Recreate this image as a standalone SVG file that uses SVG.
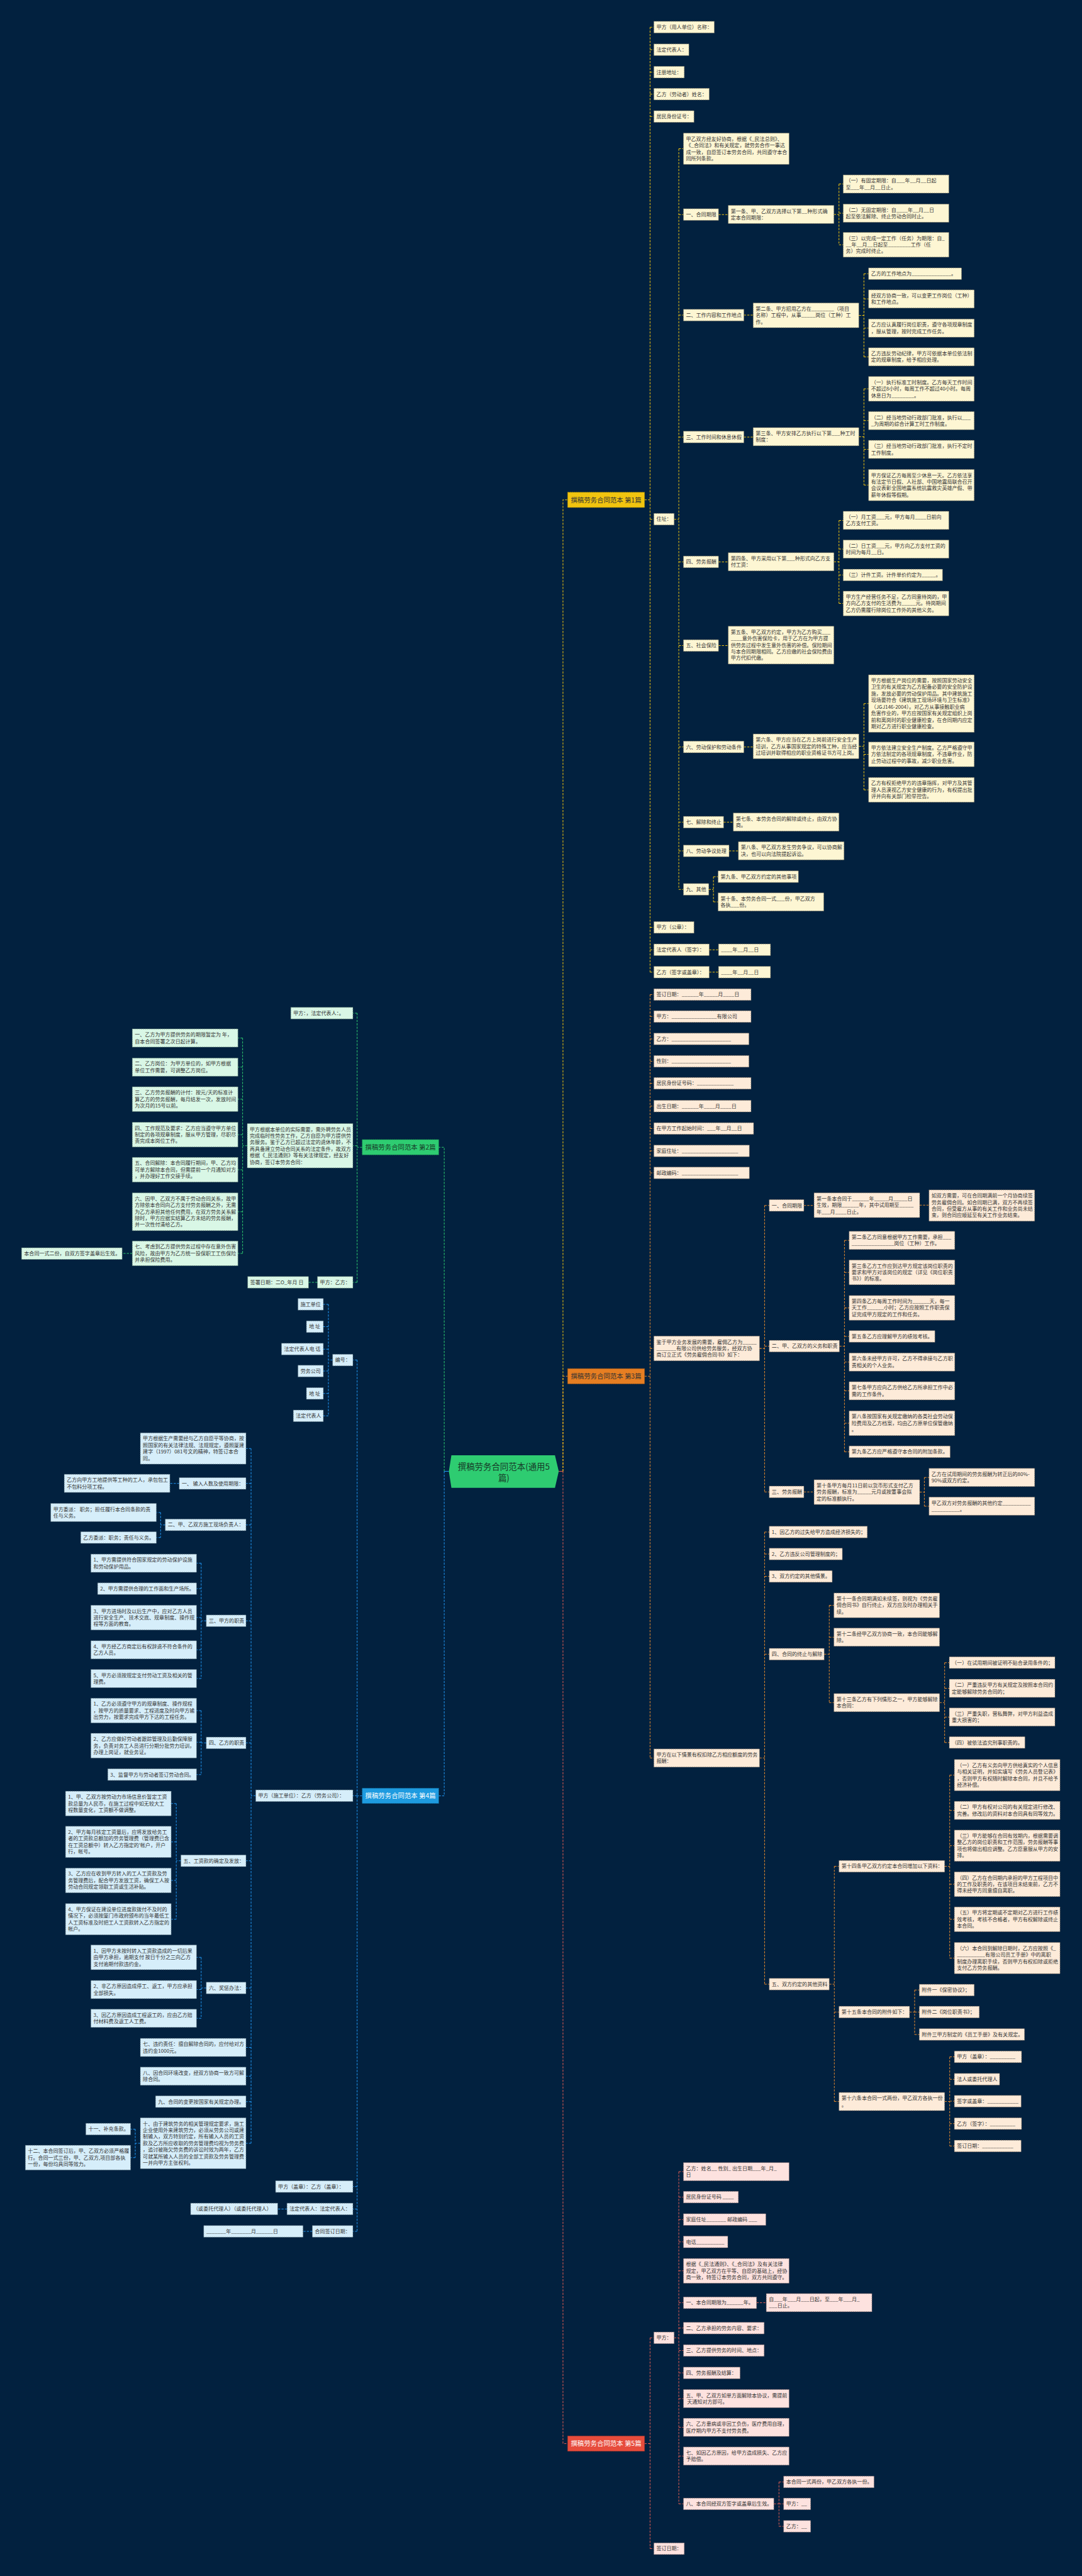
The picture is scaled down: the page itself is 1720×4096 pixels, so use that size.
<svg xmlns="http://www.w3.org/2000/svg" width="1720" height="4096" viewBox="0 0 1720 4096">
<style>
text{font-family:"Noto Sans CJK SC","Liberation Sans",sans-serif;font-size:12px;fill:#333}
.n1 rect{fill:#fdf6d3;stroke:#7d7358;stroke-width:1.1;stroke-dasharray:3 2}
.n3 rect{fill:#fdebd9;stroke:#7d6a58;stroke-width:1.1;stroke-dasharray:3 2}
.n5 rect{fill:#fde2df;stroke:#7d6262;stroke-width:1.1;stroke-dasharray:3 2}
.n2 rect{fill:#d9f7e6;stroke:#5f7d6c;stroke-width:1.1;stroke-dasharray:3 2}
.n4 rect{fill:#d6eefa;stroke:#5f7480;stroke-width:1.1;stroke-dasharray:3 2}
.lb text{font-size:15.5px;text-anchor:middle}
.lb rect{stroke-width:1.2;stroke-dasharray:3 2}
#conn path{fill:none;stroke-width:1.5;stroke-dasharray:5 3}
.c1{stroke:#f1c40f}.c3{stroke:#e68a2e}.c5{stroke:#e25c52}.c2{stroke:#2ecc71}.c4{stroke:#2196f3}
</style>
<rect width="1720" height="4096" fill="#02213f"/>
<g transform="scale(0.671875)">
<g id="conn">
<path d="M1322,3482 H1332" style="stroke:#e25c52;stroke-dasharray:none"/>
<path d="M1062,3482 H1051" style="stroke:#2196f3;stroke-dasharray:none"/>
<path class="c5" d="M1332,3482 V5783 H1343"/>
<path class="c3" d="M1332,3482 V3257 H1343"/>
<path class="c1" d="M1332,3482 V1183 H1343"/>
<path class="c2" d="M1051,3482 V2715 H1038"/>
<path class="c4" d="M1051,3482 V4250 H1038"/>
<path class="c1" d="M1525,1183 H1538 M1538,64.25 V2300.75 M1538,64.25 H1547 M1538,117.75 H1547 M1538,170.75 H1547 M1538,222.75 H1547 M1538,275.75 H1547 M1538,1229 H1547 M1538,2194.75 H1547 M1538,2247.75 H1547 M1538,2300.75 H1547 M1678,2247.75 H1700 M1678,2300.75 H1700"/>
<path class="c1" d="M1595,1229 H1606 M1606,352 V2104.75 M1606,352 H1617 M1606,507.75 H1617 M1606,745.75 H1617 M1606,1034.25 H1617 M1606,1329.75 H1617 M1606,1527.75 H1617 M1606,1767.75 H1617 M1606,1945.75 H1617 M1606,2013.75 H1617 M1606,2104.75 H1617"/>
<path class="c1" d="M1700,507.75 H1723 M1973,507.5 H1985 M1985,435.5 V579.25 M1985,435.5 H1995 M1985,504.5 H1995 M1985,579.25 H1995"/>
<path class="c1" d="M1760,745.75 H1782 M2032,746.25 H2044 M2044,647.75 V844.5 M2044,647.75 H2055 M2044,707.5 H2055 M2044,776.5 H2055 M2044,844.5 H2055"/>
<path class="c1" d="M1760,1034.25 H1782 M2032,1033.5 H2044 M2044,920.25 V1148 M2044,920.25 H2055 M2044,995.5 H2055 M2044,1063.5 H2055 M2044,1148 H2055"/>
<path class="c1" d="M1700,1329.75 H1723 M1973,1329.5 H1985 M1985,1231.5 V1428.25 M1985,1231.5 H1995 M1985,1299.5 H1995 M1985,1360.75 H1995 M1985,1428.25 H1995"/>
<path class="c1" d="M1700,1527.75 H1723 M1760,1767.75 H1782 M2032,1766.25 H2044 M2044,1665 V1869.25 M2044,1665 H2055 M2044,1785.25 H2055 M2044,1869.25 H2055"/>
<path class="c1" d="M1712,1945.75 H1735 M1725,2013.75 H1747 M1677,2104.75 H1688 M1688,2074.75 V2134.5 M1688,2074.75 H1699 M1688,2134.5 H1699"/>
<path class="c3" d="M1525,3257 H1538 M1538,2353.75 V4160.5 M1538,2353.75 H1547 M1538,2405.75 H1547 M1538,2458.75 H1547 M1538,2511.75 H1547 M1538,2563.75 H1547 M1538,2617.75 H1547 M1538,2670.75 H1547 M1538,2723.75 H1547 M1538,2775.75 H1547 M1538,3191.25 H1547 M1538,4160.5 H1547"/>
<path class="c3" d="M1797,3191.25 H1809 M1809,2852.75 V3530.75 M1809,2852.75 H1820 M1809,3185.75 H1820 M1809,3530.75 H1820 M1902,2852.75 H1926 M2176,2852.25 H2198"/>
<path class="c3" d="M1986,3185.75 H1998 M1998,2935.5 V3435.75 M1998,2935.5 H2009 M1998,3011.25 H2009 M1998,3095.25 H2009 M1998,3162.75 H2009 M1998,3223.5 H2009 M1998,3291.5 H2009 M1998,3368.25 H2009 M1998,3435.75 H2009"/>
<path class="c3" d="M1902,3530.75 H1926 M2176,3531.25 H2187 M2187,3496.5 V3564.5 M2187,3496.5 H2198 M2187,3564.5 H2198"/>
<path class="c3" d="M1797,4160.5 H1809 M1809,3625.75 V4695.75 M1809,3625.75 H1820 M1809,3677.75 H1820 M1809,3730.75 H1820 M1809,3914.75 H1820 M1809,4695.75 H1820"/>
<path class="c3" d="M1950,3914.75 H1962 M1962,3799.25 V4029.5 M1962,3799.25 H1973 M1962,3874.5 H1973 M1962,4029.5 H1973 M2223,4029.5 H2235 M2235,3934.75 V4123.75 M2235,3934.75 H2246 M2235,3995.5 H2246 M2235,4063.5 H2246 M2235,4123.75 H2246"/>
<path class="c3" d="M1962,4695.75 H1974 M1974,4416.75 V4973.5 M1974,4416.75 H1985 M1974,4761.75 H1985 M1974,4973.5 H1985"/>
<path class="c3" d="M2235,4416.75 H2247 M2247,4201 V4634 M2247,4201 H2258 M2247,4284.5 H2258 M2247,4368 H2258 M2247,4459.25 H2258 M2247,4542.25 H2258 M2247,4634 H2258"/>
<path class="c3" d="M2152,4761.75 H2164 M2164,4709.75 V4814.75 M2164,4709.75 H2175 M2164,4761.75 H2175 M2164,4814.75 H2175"/>
<path class="c3" d="M2235,4973.5 H2247 M2247,4867.75 V5078.75 M2247,4867.75 H2258 M2247,4920.75 H2258 M2247,4972.75 H2258 M2247,5025.75 H2258 M2247,5078.75 H2258"/>
<path class="c5" d="M1525,5783 H1538 M1538,5532.75 V6031.75 M1538,5532.75 H1547 M1538,6031.75 H1547"/>
<path class="c5" d="M1595,5532.75 H1606 M1606,5139.5 V5925.75 M1606,5139.5 H1617 M1606,5199.75 H1617 M1606,5252.75 H1617 M1606,5305.75 H1617 M1606,5374.25 H1617 M1606,5449.75 H1617 M1606,5509.75 H1617 M1606,5562.75 H1617 M1606,5615.75 H1617 M1606,5676.5 H1617 M1606,5744.5 H1617 M1606,5812.5 H1617 M1606,5925.75 H1617"/>
<path class="c5" d="M1790,5449.75 H1813 M1831,5925.75 H1843 M1843,5873.75 V5978.75 M1843,5873.75 H1854 M1843,5925.75 H1854 M1843,5978.75 H1854"/>
<path class="c2" d="M857,2715 H845 M845,2397.75 V3034.75 M845,2397.75 H835 M845,2711.5 H835 M845,3034.75 H835 M751,3034.75 H730"/>
<path class="c2" d="M585,2711.5 H574 M574,2456.5 V2966.25 M574,2456.5 H563 M574,2525.5 H563 M574,2601.25 H563 M574,2685.25 H563 M574,2768.25 H563 M574,2867.75 H563 M574,2966.25 H563 M313,2966.25 H289"/>
<path class="c4" d="M857,4250 H845 M845,3218.75 V5280.75 M845,3218.75 H835 M845,4249.75 H835 M845,5174.75 H835 M845,5227.75 H835 M845,5280.75 H835 M679,5227.75 H657 M739,5280.75 H717"/>
<path class="c4" d="M787,3218.75 H777 M777,3086.75 V3350.75 M777,3086.75 H765 M777,3139.75 H765 M777,3192.75 H765 M777,3244.75 H765 M777,3297.75 H765 M777,3350.75 H765"/>
<path class="c4" d="M605,4249.75 H594 M594,3428 V5072.25 M594,3428 H582 M594,3510.75 H582 M594,3608.75 H582 M594,3835.75 H582 M594,4124.75 H582 M594,4403.75 H582 M594,4704.75 H582 M594,4845.5 H582 M594,4913.5 H582 M594,4973.75 H582 M594,5072.25 H582"/>
<path class="c4" d="M424,3510.75 H402 M391,3608.75 H380 M380,3579.5 V3638.75 M380,3579.5 H370 M380,3638.75 H370"/>
<path class="c4" d="M488,3835.75 H476 M476,3699.5 V3972.5 M476,3699.5 H465 M476,3759.75 H465 M476,3828.25 H465 M476,3904.5 H465 M476,3972.5 H465"/>
<path class="c4" d="M488,4124.75 H476 M476,4048.25 V4199.75 M476,4048.25 H465 M476,4123.25 H465 M476,4199.75 H465"/>
<path class="c4" d="M428,4403.75 H417 M417,4268.25 V4542 M417,4268.25 H405 M417,4359 H405 M417,4450.25 H405 M417,4542 H405"/>
<path class="c4" d="M488,4704.75 H476 M476,4632.25 V4776.5 M476,4632.25 H465 M476,4708.5 H465 M476,4776.5 H465"/>
<path class="c4" d="M332,5072.25 H320 M320,5038.75 V5106.25 M320,5038.75 H309 M320,5106.25 H309"/>
</g>

<g id="root"><polygon points="1062,3482 1068,3444 1313,3444 1322,3482 1313,3521 1068,3521" fill="#2ecc71"/><text x="1192" y="3478" style="font-size:20px;text-anchor:middle;fill:#173a28">撰稿劳务合同范本(通用5</text><text x="1192" y="3505" style="font-size:20px;text-anchor:middle;fill:#173a28">篇)</text></g>

<g id="L1" class="lb"><rect x="1343" y="1165" width="182" height="36" fill="#f1c40f" stroke="#b08f00"/><text x="1434" y="1188.5">撰稿劳务合同范本 第1篇</text></g>
<g id="L3" class="lb"><rect x="1343" y="3239" width="182" height="36" fill="#e67e22" stroke="#a85a12"/><text x="1434" y="3262.5">撰稿劳务合同范本 第3篇</text></g>
<g id="L5" class="lb"><rect x="1343" y="5765" width="182" height="36" fill="#e74c3c" stroke="#a83428"/><text x="1434" y="5788.5" style="fill:#fff">撰稿劳务合同范本 第5篇</text></g>
<g id="L2" class="lb"><rect x="857" y="2697" width="181" height="36" fill="#2ecc71" stroke="#1f9150"/><text x="947.5" y="2720.5" style="fill:#173a28">撰稿劳务合同范本 第2篇</text></g>
<g id="L4" class="lb"><rect x="857" y="4232" width="181" height="36" fill="#1e9be0" stroke="#13709f"/><text x="947.5" y="4255.5" style="fill:#fff">撰稿劳务合同范本 第4篇</text></g>

<g class="n1">
<g id="A1"><rect x="1547" y="50.5" width="143" height="27.5"/><text x="1553" y="68.5">甲方（用人单位）名称：</text></g>
<g id="A2"><rect x="1547" y="104" width="83" height="27.5"/><text x="1553" y="122">法定代表人：</text></g>
<g id="A3"><rect x="1547" y="157" width="72" height="27.5"/><text x="1553" y="175">注册地址：</text></g>
<g id="A4"><rect x="1547" y="209" width="131" height="27.5"/><text x="1553" y="227">乙方（劳动者）姓名：</text></g>
<g id="A5"><rect x="1547" y="262" width="95" height="27.5"/><text x="1553" y="280">居民身份证号：</text></g>
<g id="A6"><rect x="1547" y="1215" width="48" height="27.5"/><text x="1553" y="1233">住址：</text></g>
<g id="A7"><rect x="1547" y="2181" width="95" height="27.5"/><text x="1553" y="2199">甲方（公章）：</text></g>
<g id="A8"><rect x="1547" y="2234" width="131" height="27.5"/><text x="1553" y="2252">法定代表人（签字）：</text></g>
<g id="A8c"><rect x="1700" y="2234" width="123" height="27.5"/><text x="1706" y="2252">____年__月__日</text></g>
<g id="A9"><rect x="1547" y="2287" width="131" height="27.5"/><text x="1553" y="2305">乙方（签字或盖章）：</text></g>
<g id="A9c"><rect x="1700" y="2287" width="123" height="27.5"/><text x="1706" y="2305">____年__月__日</text></g>
<g id="B1"><rect x="1617" y="315" width="250" height="74"/><text x="1623" y="333"><tspan>甲乙双方经友好协商，根据《_民法总则》、</tspan><tspan x="1623" dy="15.5">《_合同法》和有关规定，就劳务合作一事达</tspan><tspan x="1623" dy="15.5">成一致，自愿签订本劳务合同，共同遵守本合</tspan><tspan x="1623" dy="15.5">同所列条款。</tspan></text></g>
<g id="B2"><rect x="1617" y="494" width="83" height="27.5"/><text x="1623" y="512">一、合同期限</text></g>
<g id="B3"><rect x="1617" y="732" width="143" height="27.5"/><text x="1623" y="750">二、工作内容和工作地点</text></g>
<g id="B4"><rect x="1617" y="1020.5" width="143" height="27.5"/><text x="1623" y="1038.5">三、工作时间和休息休假</text></g>
<g id="B5"><rect x="1617" y="1316" width="83" height="27.5"/><text x="1623" y="1334">四、劳务报酬</text></g>
<g id="B6"><rect x="1617" y="1514" width="83" height="27.5"/><text x="1623" y="1532">五、社会保险</text></g>
<g id="B7"><rect x="1617" y="1754" width="143" height="27.5"/><text x="1623" y="1772">六、劳动保护和劳动条件</text></g>
<g id="B8"><rect x="1617" y="1932" width="95" height="27.5"/><text x="1623" y="1950">七、解除和终止</text></g>
<g id="B9"><rect x="1617" y="2000" width="108" height="27.5"/><text x="1623" y="2018">八、劳动争议处理</text></g>
<g id="B10"><rect x="1617" y="2091" width="60" height="27.5"/><text x="1623" y="2109">九、其他</text></g>
<g id="C1"><rect x="1723" y="486" width="250" height="43"/><text x="1729" y="504"><tspan>第一条、甲、乙双方选择以下第__种形式确</tspan><tspan x="1729" dy="15.5">定本合同期限：</tspan></text></g>
<g id="D1"><rect x="1995" y="414" width="250" height="43"/><text x="2001" y="432"><tspan>（一）有固定期限：自___年__月__日起</tspan><tspan x="2001" dy="15.5">至___年__月__日止。</tspan></text></g>
<g id="D2"><rect x="1995" y="483" width="250" height="43"/><text x="2001" y="501"><tspan>（二）无固定期限：自____年__月__日</tspan><tspan x="2001" dy="15.5">起至依法解除、终止劳动合同时止。</tspan></text></g>
<g id="D3"><rect x="1995" y="550" width="250" height="58.5"/><text x="2001" y="568"><tspan>（三）以完成一定工作（任务）为期限：自_</tspan><tspan x="2001" dy="15.5">__年__月__日起至________工作（任</tspan><tspan x="2001" dy="15.5">务）完成时终止。</tspan></text></g>
<g id="C2"><rect x="1782" y="717" width="250" height="58.5"/><text x="1788" y="735"><tspan>第二条、甲方招用乙方在________（项目</tspan><tspan x="1788" dy="15.5">名称）工程中，从事_____岗位（工种）工</tspan><tspan x="1788" dy="15.5">作。</tspan></text></g>
<g id="D4"><rect x="2055" y="634" width="220" height="27.5"/><text x="2061" y="652">乙方的工作地点为______________。</text></g>
<g id="D5"><rect x="2055" y="686" width="250" height="43"/><text x="2061" y="704"><tspan>经双方协商一致，可以变更工作岗位（工种）</tspan><tspan x="2061" dy="15.5">和工作地点。</tspan></text></g>
<g id="D6"><rect x="2055" y="755" width="250" height="43"/><text x="2061" y="773"><tspan>乙方应认真履行岗位职责，遵守各项规章制度</tspan><tspan x="2061" dy="15.5">，服从管理，按时完成工作任务。</tspan></text></g>
<g id="D7"><rect x="2055" y="823" width="250" height="43"/><text x="2061" y="841"><tspan>乙方违反劳动纪律，甲方可依据本单位依法制</tspan><tspan x="2061" dy="15.5">定的规章制度，给予相应处理。</tspan></text></g>
<g id="C3"><rect x="1782" y="1012" width="250" height="43"/><text x="1788" y="1030"><tspan>第三条、甲方安排乙方执行以下第___种工时</tspan><tspan x="1788" dy="15.5">制度：</tspan></text></g>
<g id="D8"><rect x="2055" y="891" width="250" height="58.5"/><text x="2061" y="909"><tspan>（一）执行标准工时制度。乙方每天工作时间</tspan><tspan x="2061" dy="15.5">不超过8小时，每周工作不超过40小时。每周</tspan><tspan x="2061" dy="15.5">休息日为________。</tspan></text></g>
<g id="D9"><rect x="2055" y="974" width="250" height="43"/><text x="2061" y="992"><tspan>（二）经当地劳动行政部门批准，执行以___</tspan><tspan x="2061" dy="15.5">_为周期的综合计算工时工作制度。</tspan></text></g>
<g id="D10"><rect x="2055" y="1042" width="250" height="43"/><text x="2061" y="1060"><tspan>（三）经当地劳动行政部门批准，执行不定时</tspan><tspan x="2061" dy="15.5">工作制度。</tspan></text></g>
<g id="D11"><rect x="2055" y="1111" width="250" height="74"/><text x="2061" y="1129"><tspan>甲方保证乙方每周至少休息一天。乙方依法享</tspan><tspan x="2061" dy="15.5">有法定节日假、人社部、中国地震局联合召开</tspan><tspan x="2061" dy="15.5">会议表彰全国地震系统抗震救灾英雄产假、带</tspan><tspan x="2061" dy="15.5">薪年休假等假期。</tspan></text></g>
<g id="C4"><rect x="1723" y="1308" width="250" height="43"/><text x="1729" y="1326"><tspan>第四条、甲方采用以下第___种形式向乙方支</tspan><tspan x="1729" dy="15.5">付工资：</tspan></text></g>
<g id="D12"><rect x="1995" y="1210" width="250" height="43"/><text x="2001" y="1228"><tspan>（一）月工资___元，甲方每月____日前向</tspan><tspan x="2001" dy="15.5">乙方支付工资。</tspan></text></g>
<g id="D13"><rect x="1995" y="1278" width="250" height="43"/><text x="2001" y="1296"><tspan>（二）日工资___元，甲方向乙方支付工资的</tspan><tspan x="2001" dy="15.5">时间为每月__日。</tspan></text></g>
<g id="D14"><rect x="1995" y="1347" width="235" height="27.5"/><text x="2001" y="1365">（三）计件工资。计件单价约定为_____。</text></g>
<g id="D15"><rect x="1995" y="1399" width="250" height="58.5"/><text x="2001" y="1417"><tspan>甲方生产经营任务不足，乙方同意待岗的，甲</tspan><tspan x="2001" dy="15.5">方向乙方支付的生活费为_____元。待岗期间</tspan><tspan x="2001" dy="15.5">乙方仍需履行除岗位工作外的其他义务。</tspan></text></g>
<g id="C5"><rect x="1723" y="1482" width="250" height="89.5"/><text x="1729" y="1500"><tspan>第五条、甲乙双方约定，甲方为乙方购买___</tspan><tspan x="1729" dy="15.5">____意外伤害保险卡，用于乙方在为甲方提</tspan><tspan x="1729" dy="15.5">供劳务过程中发生意外伤害的补偿。保险期间</tspan><tspan x="1729" dy="15.5">与本合同期限相同。乙方应缴的社会保险费由</tspan><tspan x="1729" dy="15.5">甲方代扣代缴。</tspan></text></g>
<g id="C6"><rect x="1782" y="1737" width="250" height="58.5"/><text x="1788" y="1755"><tspan>第六条、甲方应当在乙方上岗前进行安全生产</tspan><tspan x="1788" dy="15.5">培训，乙方从事国家规定的特殊工种，应当经</tspan><tspan x="1788" dy="15.5">过培训并取得相应的职业资格证书方可上岗。</tspan></text></g>
<g id="D16"><rect x="2055" y="1597" width="250" height="136"/><text x="2061" y="1615"><tspan>甲方根据生产岗位的需要，按照国家劳动安全</tspan><tspan x="2061" dy="15.5">卫生的有关规定为乙方配备必要的安全防护设</tspan><tspan x="2061" dy="15.5">施，发放必要的劳动保护用品。其中建筑施工</tspan><tspan x="2061" dy="15.5">现场要符合《建筑施工现场环境与卫生标准》</tspan><tspan x="2061" dy="15.5">（JGJ146-2004）。对乙方从事接触职业病</tspan><tspan x="2061" dy="15.5">危害作业的，甲方应按国家有关规定组织上岗</tspan><tspan x="2061" dy="15.5">前和离岗时的职业健康检查，在合同期内应定</tspan><tspan x="2061" dy="15.5">期对乙方进行职业健康检查。</tspan></text></g>
<g id="D17"><rect x="2055" y="1756" width="250" height="58.5"/><text x="2061" y="1774"><tspan>甲方依法建立安全生产制度。乙方严格遵守甲</tspan><tspan x="2061" dy="15.5">方依法制定的各项规章制度，不违章作业，防</tspan><tspan x="2061" dy="15.5">止劳动过程中的事故，减少职业危害。</tspan></text></g>
<g id="D18"><rect x="2055" y="1840" width="250" height="58.5"/><text x="2061" y="1858"><tspan>乙方有权拒绝甲方的违章指挥，对甲方及其管</tspan><tspan x="2061" dy="15.5">理人员漠视乙方安全健康的行为，有权提出批</tspan><tspan x="2061" dy="15.5">评并向有关部门检举控告。</tspan></text></g>
<g id="C7"><rect x="1735" y="1924" width="250" height="43"/><text x="1741" y="1942"><tspan>第七条、本劳务合同的解除或终止，由双方协</tspan><tspan x="1741" dy="15.5">商。</tspan></text></g>
<g id="C8"><rect x="1747" y="1992" width="250" height="43"/><text x="1753" y="2010"><tspan>第八条、甲乙双方发生劳务争议，可以协商解</tspan><tspan x="1753" dy="15.5">决，也可以向法院提起诉讼。</tspan></text></g>
<g id="C9"><rect x="1699" y="2061" width="190" height="27.5"/><text x="1705" y="2079">第九条、甲乙双方约定的其他事项</text></g>
<g id="C10"><rect x="1699" y="2113" width="250" height="43"/><text x="1705" y="2131"><tspan>第十条、本劳务合同一式___份，甲乙双方</tspan><tspan x="1705" dy="15.5">各执___份。</tspan></text></g>
</g>

<g class="n3">
<g id="E1"><rect x="1547" y="2340" width="230" height="27.5"/><text x="1553" y="2358">签订日期：______年_____月____日</text></g>
<g id="E2"><rect x="1547" y="2392" width="230" height="27.5"/><text x="1553" y="2410">甲方：________________有限公司</text></g>
<g id="E3"><rect x="1547" y="2445" width="225" height="27.5"/><text x="1553" y="2463">乙方：_____________________</text></g>
<g id="E4"><rect x="1547" y="2498" width="225" height="27.5"/><text x="1553" y="2516">性别：_____________________</text></g>
<g id="E5"><rect x="1547" y="2550" width="230" height="27.5"/><text x="1553" y="2568">居民身份证号码：_____________</text></g>
<g id="E6"><rect x="1547" y="2604" width="230" height="27.5"/><text x="1553" y="2622">出生日期：______年____月____日</text></g>
<g id="E7"><rect x="1547" y="2657" width="236" height="27.5"/><text x="1553" y="2675">在甲方工作起始时间：___年__月__日</text></g>
<g id="E8"><rect x="1547" y="2710" width="226" height="27.5"/><text x="1553" y="2728">家庭住址：____________________</text></g>
<g id="E9"><rect x="1547" y="2762" width="226" height="27.5"/><text x="1553" y="2780">邮政编码：____________________</text></g>
<g id="E10"><rect x="1547" y="3162" width="250" height="58.5"/><text x="1553" y="3180"><tspan>鉴于甲方业务发展的需要，雇佣乙方为_____</tspan><tspan x="1553" dy="15.5">_______有限公司供给劳务服务，经双方协</tspan><tspan x="1553" dy="15.5">商订立正式《劳务雇佣合同书》如下：</tspan></text></g>
<g id="E11"><rect x="1547" y="4139" width="250" height="43"/><text x="1553" y="4157"><tspan>甲方在以下情景有权扣除乙方相应额度的劳务</tspan><tspan x="1553" dy="15.5">报酬：</tspan></text></g>
<g id="F1"><rect x="1820" y="2839" width="82" height="27.5"/><text x="1826" y="2857">一、合同期限</text></g>
<g id="G1"><rect x="1926" y="2823" width="250" height="58.5"/><text x="1932" y="2841"><tspan>第一条本合同于______年_____月_____日</tspan><tspan x="1932" dy="15.5">生效，期限______年，其中试用期至_____</tspan><tspan x="1932" dy="15.5">年___月____日止。</tspan></text></g>
<g id="H1"><rect x="2198" y="2816" width="250" height="74"/><text x="2204" y="2834"><tspan>如双方需要，可在合同期满前一个月协商续签</tspan><tspan x="2204" dy="15.5">劳务雇佣合同。如合同期已满，双方不再续签</tspan><tspan x="2204" dy="15.5">合同，但受雇方从事的有关工作和业务尚未结</tspan><tspan x="2204" dy="15.5">束，则合同应顺延至有关工作业务结束。</tspan></text></g>
<g id="F2"><rect x="1820" y="3172" width="166" height="27.5"/><text x="1826" y="3190">二、甲、乙双方的义务和职责</text></g>
<g id="G2"><rect x="2009" y="2914" width="250" height="43"/><text x="2015" y="2932"><tspan>第二条乙方同意根据甲方工作需要，承担___</tspan><tspan x="2015" dy="15.5">_______________岗位（工种）工作。</tspan></text></g>
<g id="G3"><rect x="2009" y="2982" width="250" height="58.5"/><text x="2015" y="3000"><tspan>第三条乙方工作应到达甲方规定该岗位职责的</tspan><tspan x="2015" dy="15.5">要求和甲方对该岗位的规定（详见《岗位职责</tspan><tspan x="2015" dy="15.5">书》）的标准。</tspan></text></g>
<g id="G4"><rect x="2009" y="3066" width="250" height="58.5"/><text x="2015" y="3084"><tspan>第四条乙方每周工作时间为______天，每一</tspan><tspan x="2015" dy="15.5">天工作______小时；乙方应按照工作职责保</tspan><tspan x="2015" dy="15.5">证完成甲方规定的工作和任务。</tspan></text></g>
<g id="G5"><rect x="2009" y="3149" width="203" height="27.5"/><text x="2015" y="3167">第五条乙方应理解甲方的绩效考核。</text></g>
<g id="G6"><rect x="2009" y="3202" width="250" height="43"/><text x="2015" y="3220"><tspan>第六条未经甲方许可，乙方不得承接与乙方职</tspan><tspan x="2015" dy="15.5">责相关的个人业务。</tspan></text></g>
<g id="G7"><rect x="2009" y="3270" width="250" height="43"/><text x="2015" y="3288"><tspan>第七条甲方应向乙方供给乙方所承担工作中必</tspan><tspan x="2015" dy="15.5">需的工作条件。</tspan></text></g>
<g id="G8"><rect x="2009" y="3339" width="250" height="58.5"/><text x="2015" y="3357"><tspan>第八条按国家有关规定缴纳的各类社会劳动保</tspan><tspan x="2015" dy="15.5">险费用及乙方档案，均由乙方原单位保管缴纳</tspan><tspan x="2015" dy="15.5">。</tspan></text></g>
<g id="G9"><rect x="2009" y="3422" width="239" height="27.5"/><text x="2015" y="3440">第九条乙方应严格遵守本合同的附加条款。</text></g>
<g id="F3"><rect x="1820" y="3517" width="82" height="27.5"/><text x="1826" y="3535">三、劳务报酬</text></g>
<g id="G10"><rect x="1926" y="3502" width="250" height="58.5"/><text x="1932" y="3520"><tspan>第十条甲方每月11日前以货币形式支付乙方</tspan><tspan x="1932" dy="15.5">劳务报酬，标准为_____元月或按董事会拟</tspan><tspan x="1932" dy="15.5">定的标准额执行。</tspan></text></g>
<g id="H2"><rect x="2198" y="3475" width="250" height="43"/><text x="2204" y="3493"><tspan>乙方在试用期间的劳务报酬为转正后的80%-</tspan><tspan x="2204" dy="15.5">90%或双方约定。</tspan></text></g>
<g id="H3"><rect x="2198" y="3543" width="250" height="43"/><text x="2204" y="3561"><tspan>甲乙双方对劳务报酬的其他约定__________</tspan><tspan x="2204" dy="15.5">__________。</tspan></text></g>
<g id="F4"><rect x="1820" y="3612" width="232" height="27.5"/><text x="1826" y="3630">1、因乙方的过失给甲方造成经济损失的；</text></g>
<g id="F5"><rect x="1820" y="3664" width="173" height="27.5"/><text x="1826" y="3682">2、乙方违反公司管理制度的；</text></g>
<g id="F6"><rect x="1820" y="3717" width="149" height="27.5"/><text x="1826" y="3735">3、双方约定的其他情景。</text></g>
<g id="F7"><rect x="1820" y="3901" width="130" height="27.5"/><text x="1826" y="3919">四、合同的终止与解除</text></g>
<g id="G11"><rect x="1973" y="3770" width="250" height="58.5"/><text x="1979" y="3788"><tspan>第十一条合同期满如未续签，则视为《劳务雇</tspan><tspan x="1979" dy="15.5">佣合同书》自行终止，双方应及时办理相关手</tspan><tspan x="1979" dy="15.5">续。</tspan></text></g>
<g id="G12"><rect x="1973" y="3853" width="250" height="43"/><text x="1979" y="3871"><tspan>第十二条经甲乙双方协商一致，本合同能够解</tspan><tspan x="1979" dy="15.5">除。</tspan></text></g>
<g id="G13"><rect x="1973" y="4008" width="250" height="43"/><text x="1979" y="4026"><tspan>第十三条乙方有下列情形之一，甲方能够解除</tspan><tspan x="1979" dy="15.5">本合同：</tspan></text></g>
<g id="H4"><rect x="2246" y="3921" width="250" height="27.5"/><text x="2252" y="3939">（一）在试用期间被证明不贴合录用条件的；</text></g>
<g id="H5"><rect x="2246" y="3974" width="250" height="43"/><text x="2252" y="3992"><tspan>（二）严重违反甲方有关规定及按照本合同约</tspan><tspan x="2252" dy="15.5">定能够解除劳务合同的；</tspan></text></g>
<g id="H6"><rect x="2246" y="4042" width="250" height="43"/><text x="2252" y="4060"><tspan>（三）严重失职，营私舞弊，对甲方利益造成</tspan><tspan x="2252" dy="15.5">重大损害的；</tspan></text></g>
<g id="H7"><rect x="2246" y="4110" width="179" height="27.5"/><text x="2252" y="4128">（四）被依法追究刑事职责的。</text></g>
<g id="F8"><rect x="1820" y="4682" width="142" height="27.5"/><text x="1826" y="4700">五、双方约定的其他资料</text></g>
<g id="G14"><rect x="1985" y="4403" width="250" height="27.5"/><text x="1991" y="4421">第十四条甲乙双方约定本合同增加以下资料：</text></g>
<g id="H8"><rect x="2258" y="4164" width="250" height="74"/><text x="2264" y="4182"><tspan>（一）乙方有义务向甲方供给真实的个人信息</tspan><tspan x="2264" dy="15.5">与相关证明，并如实填写《劳务人员登记表》</tspan><tspan x="2264" dy="15.5">，否则甲方有权随时解除本合同，并且不给予</tspan><tspan x="2264" dy="15.5">经济补偿。</tspan></text></g>
<g id="H9"><rect x="2258" y="4263" width="250" height="43"/><text x="2264" y="4281"><tspan>（二）甲方有权对公司的有关规定进行修改、</tspan><tspan x="2264" dy="15.5">完善。修改后的资料对本合同具有同等效力。</tspan></text></g>
<g id="H10"><rect x="2258" y="4331" width="250" height="74"/><text x="2264" y="4349"><tspan>（三）甲方能够在合同有效期内，根据需要调</tspan><tspan x="2264" dy="15.5">整乙方的岗位职责和工作范围，劳务报酬等事</tspan><tspan x="2264" dy="15.5">项也将做出相应调整。乙方愿意服从甲方的安</tspan><tspan x="2264" dy="15.5">排。</tspan></text></g>
<g id="H11"><rect x="2258" y="4430" width="250" height="58.5"/><text x="2264" y="4448"><tspan>（四）乙方在合同期内承担的甲方工程项目中</tspan><tspan x="2264" dy="15.5">的工作及职责的，在该项目未结束前，乙方不</tspan><tspan x="2264" dy="15.5">得未经甲方同意擅自离职。</tspan></text></g>
<g id="H12"><rect x="2258" y="4513" width="250" height="58.5"/><text x="2264" y="4531"><tspan>（五）甲方将定期或不定期对乙方进行工作绩</tspan><tspan x="2264" dy="15.5">效考核，考核不合格者，甲方有权解除或终止</tspan><tspan x="2264" dy="15.5">本合同。</tspan></text></g>
<g id="H13"><rect x="2258" y="4597" width="250" height="74"/><text x="2264" y="4615"><tspan>（六）本合同到解除日期时，乙方应按照《_</tspan><tspan x="2264" dy="15.5">__________有限公司员工手册》中的离职</tspan><tspan x="2264" dy="15.5">制度办理离职手续，否则甲方有权扣除或拒绝</tspan><tspan x="2264" dy="15.5">支付乙方劳务报酬。</tspan></text></g>
<g id="G15"><rect x="1985" y="4748" width="167" height="27.5"/><text x="1991" y="4766">第十五条本合同的附件如下：</text></g>
<g id="H14"><rect x="2175" y="4696" width="130" height="27.5"/><text x="2181" y="4714">附件一《保密协议》；</text></g>
<g id="H15"><rect x="2175" y="4748" width="142" height="27.5"/><text x="2181" y="4766">附件二《岗位职责书》；</text></g>
<g id="H16"><rect x="2175" y="4801" width="249" height="27.5"/><text x="2181" y="4819">附件三甲方制定的《员工手册》及有关规定。</text></g>
<g id="G16"><rect x="1985" y="4952" width="250" height="43"/><text x="1991" y="4970"><tspan>第十六条本合同一式两份，甲乙双方各执一份</tspan><tspan x="1991" dy="15.5">。</tspan></text></g>
<g id="H17"><rect x="2258" y="4854" width="159" height="27.5"/><text x="2264" y="4872">甲方（盖章）：_________</text></g>
<g id="H18"><rect x="2258" y="4907" width="107" height="27.5"/><text x="2264" y="4925">法人或委托代理人</text></g>
<g id="H19"><rect x="2258" y="4959" width="158" height="27.5"/><text x="2264" y="4977">签字或盖章：___________</text></g>
<g id="H20"><rect x="2258" y="5012" width="159" height="27.5"/><text x="2264" y="5030">乙方（签字）：_________</text></g>
<g id="H21"><rect x="2258" y="5065" width="158" height="27.5"/><text x="2264" y="5083">签订日期：___________</text></g>
</g>

<g class="n5">
<g id="I1"><rect x="1547" y="5519" width="48" height="27.5"/><text x="1553" y="5537">甲方：</text></g>
<g id="I2"><rect x="1547" y="6018" width="72" height="27.5"/><text x="1553" y="6036">签订日期：</text></g>
<g id="J1"><rect x="1617" y="5118" width="250" height="43"/><text x="1623" y="5136"><tspan>乙方：姓名__ 性别_ 出生日期___年_月_</tspan><tspan x="1623" dy="15.5">日</tspan></text></g>
<g id="J2"><rect x="1617" y="5186" width="130" height="27.5"/><text x="1623" y="5204">居民身份证号码 ____</text></g>
<g id="J3"><rect x="1617" y="5239" width="195" height="27.5"/><text x="1623" y="5257">家庭住址_______ 邮政编码 ___</text></g>
<g id="J4"><rect x="1617" y="5292" width="105" height="27.5"/><text x="1623" y="5310">电话__________</text></g>
<g id="J5"><rect x="1617" y="5345" width="250" height="58.5"/><text x="1623" y="5363"><tspan>根据《_民法通则》、《_合同法》及有关法律</tspan><tspan x="1623" dy="15.5">规定，甲乙双方在平等、自愿的基础上，经协</tspan><tspan x="1623" dy="15.5">商一致，特签订本劳务合同，双方共同遵守。</tspan></text></g>
<g id="J6"><rect x="1617" y="5436" width="173" height="27.5"/><text x="1623" y="5454">一、本合同期限为______年。</text></g>
<g id="K1"><rect x="1813" y="5428" width="250" height="43"/><text x="1819" y="5446"><tspan>自___年___月___日起，至___年___月_</tspan><tspan x="1819" dy="15.5">___日止。</tspan></text></g>
<g id="J7"><rect x="1617" y="5496" width="191" height="27.5"/><text x="1623" y="5514">二、乙方承担的劳务内容、要求：</text></g>
<g id="J8"><rect x="1617" y="5549" width="191" height="27.5"/><text x="1623" y="5567">三、乙方提供劳务的时间、地点：</text></g>
<g id="J9"><rect x="1617" y="5602" width="134" height="27.5"/><text x="1623" y="5620">四、劳务报酬及结算：</text></g>
<g id="J10"><rect x="1617" y="5655" width="250" height="43"/><text x="1623" y="5673"><tspan>五、甲、乙双方如单方面解除本协议，需提前</tspan><tspan x="1623" dy="15.5"> 天通知对方即可。</tspan></text></g>
<g id="J11"><rect x="1617" y="5723" width="250" height="43"/><text x="1623" y="5741"><tspan>六、乙方患病或非因工负伤，医疗费用自理，</tspan><tspan x="1623" dy="15.5">医疗期内甲方不支付劳务费。</tspan></text></g>
<g id="J12"><rect x="1617" y="5791" width="250" height="43"/><text x="1623" y="5809"><tspan>七、如因乙方原因，给甲方造成损失、乙方应</tspan><tspan x="1623" dy="15.5">予赔偿。</tspan></text></g>
<g id="J13"><rect x="1617" y="5912" width="214" height="27.5"/><text x="1623" y="5930">八、本合同经双方签字或盖章后生效。</text></g>
<g id="K2"><rect x="1854" y="5860" width="214" height="27.5"/><text x="1860" y="5878">本合同一式两份，甲乙双方各执一份。</text></g>
<g id="K3"><rect x="1854" y="5912" width="64" height="27.5"/><text x="1860" y="5930">甲方：__</text></g>
<g id="K4"><rect x="1854" y="5965" width="64" height="27.5"/><text x="1860" y="5983">乙方：__</text></g>
</g>

<g class="n2">
<g id="M1"><rect x="688" y="2384" width="147" height="27.5"/><text x="694" y="2402">甲方：，法定代表人：。</text></g>
<g id="M2"><rect x="585" y="2659" width="250" height="105"/><text x="591" y="2677"><tspan>甲方根据本单位的实际需要，需外聘劳务人员</tspan><tspan x="591" dy="15.5">完成临时性劳务工作，乙方自愿为甲方提供劳</tspan><tspan x="591" dy="15.5">务服务。鉴于乙方已超过法定的退休年龄，不</tspan><tspan x="591" dy="15.5">再具备建立劳动合同关系的法定条件，故双方</tspan><tspan x="591" dy="15.5">根据《_民法通则》等有关法律规定，经友好</tspan><tspan x="591" dy="15.5">协商，签订本劳务合同：</tspan></text></g>
<g id="M3"><rect x="751" y="3021" width="84" height="27.5"/><text x="757" y="3039">甲方：乙方：</text></g>
<g id="N8"><rect x="586" y="3021" width="144" height="27.5"/><text x="592" y="3039">签署日期：二O_年月 日</text></g>
<g id="N1"><rect x="313" y="2435" width="250" height="43"/><text x="319" y="2453"><tspan>一、乙方为甲方提供劳务的期限暂定为 年，</tspan><tspan x="319" dy="15.5">自本合同签署之次日起计算。</tspan></text></g>
<g id="N2"><rect x="313" y="2504" width="250" height="43"/><text x="319" y="2522"><tspan>二、乙方岗位：为甲方单位的，如甲方根据</tspan><tspan x="319" dy="15.5">单位工作需要，可调整乙方岗位。</tspan></text></g>
<g id="N3"><rect x="313" y="2572" width="250" height="58.5"/><text x="319" y="2590"><tspan>三、乙方劳务报酬的计付：按元/天的标准计</tspan><tspan x="319" dy="15.5">算乙方的劳务报酬，每月结发一次，发放时间</tspan><tspan x="319" dy="15.5">为次月的15号以前。</tspan></text></g>
<g id="N4"><rect x="313" y="2656" width="250" height="58.5"/><text x="319" y="2674"><tspan>四、工作规范及要求：乙方应当遵守甲方单位</tspan><tspan x="319" dy="15.5">制定的各项规章制度，服从甲方管理，尽职尽</tspan><tspan x="319" dy="15.5">责完成本岗位工作。</tspan></text></g>
<g id="N5"><rect x="313" y="2739" width="250" height="58.5"/><text x="319" y="2757"><tspan>五、合同解除：本合同履行期间，甲、乙方均</tspan><tspan x="319" dy="15.5">可单方解除本合同，但需提前一个月通知对方</tspan><tspan x="319" dy="15.5">，并办理好工作交接手续。</tspan></text></g>
<g id="N6"><rect x="313" y="2823" width="250" height="89.5"/><text x="319" y="2841"><tspan>六、因甲、乙双方不属于劳动合同关系，故甲</tspan><tspan x="319" dy="15.5">方除依本合同向乙方支付劳务报酬之外，无需</tspan><tspan x="319" dy="15.5">为乙方承担其他任何费用，在双方劳务关系解</tspan><tspan x="319" dy="15.5">除时，甲方应据实结算乙方未结的劳务报酬，</tspan><tspan x="319" dy="15.5">并一次性付清给乙方。</tspan></text></g>
<g id="N7"><rect x="313" y="2937" width="250" height="58.5"/><text x="319" y="2955"><tspan>七、考虑到乙方提供劳务过程中存在意外伤害</tspan><tspan x="319" dy="15.5">风险，故由甲方为乙方统一投保职工工伤保险</tspan><tspan x="319" dy="15.5">并承担保险费用。</tspan></text></g>
<g id="N9"><rect x="51" y="2953" width="238" height="27.5"/><text x="57" y="2971">本合同一式二份，自双方签字盖章后生效。</text></g>
</g>

<g class="n4">
<g id="P1"><rect x="787" y="3205" width="48" height="27.5"/><text x="793" y="3223">编号：</text></g>
<g id="Q1"><rect x="705" y="3073" width="60" height="27.5"/><text x="711" y="3091">施工单位</text></g>
<g id="Q2"><rect x="725" y="3126" width="40" height="27.5"/><text x="731" y="3144">地 址</text></g>
<g id="Q3"><rect x="666" y="3179" width="99" height="27.5"/><text x="672" y="3197">法定代表人电 话</text></g>
<g id="Q4"><rect x="705" y="3231" width="60" height="27.5"/><text x="711" y="3249">劳务公司</text></g>
<g id="Q5"><rect x="725" y="3284" width="40" height="27.5"/><text x="731" y="3302">地 址</text></g>
<g id="Q6"><rect x="694" y="3337" width="71" height="27.5"/><text x="700" y="3355">法定代表人</text></g>
<g id="P2"><rect x="605" y="4236" width="230" height="27.5"/><text x="611" y="4254">甲方（施工单位）：乙方（劳务公司）：</text></g>
<g id="P3"><rect x="652" y="5161" width="183" height="27.5"/><text x="658" y="5179">甲方（盖章）：乙方（盖章）：</text></g>
<g id="P4"><rect x="679" y="5214" width="156" height="27.5"/><text x="685" y="5232">法定代表人：法定代表人：</text></g>
<g id="P4c"><rect x="451" y="5214" width="206" height="27.5"/><text x="457" y="5232">（或委托代理人）（或委托代理人）</text></g>
<g id="P5"><rect x="739" y="5267" width="96" height="27.5"/><text x="745" y="5285">合同签订日期：</text></g>
<g id="P5c"><rect x="482" y="5267" width="235" height="27.5"/><text x="488" y="5285">_______年_______月______日</text></g>
<g id="R1"><rect x="332" y="3391" width="250" height="74"/><text x="338" y="3409"><tspan>甲方根据生产需要经与乙方自愿平等协商，按</tspan><tspan x="338" dy="15.5">照国家的有关法律法规、法规规定，遵照厦建</tspan><tspan x="338" dy="15.5">建字（1997）081号文的精神，特签订本合</tspan><tspan x="338" dy="15.5">同。</tspan></text></g>
<g id="R2"><rect x="424" y="3497" width="158" height="27.5"/><text x="430" y="3515">一、 输入人数及使用期限：</text></g>
<g id="S1"><rect x="152" y="3489" width="250" height="43"/><text x="158" y="3507"><tspan>乙方向甲方工地提供等工种的工人，承包包工</tspan><tspan x="158" dy="15.5">不包料分项工程。</tspan></text></g>
<g id="R3"><rect x="391" y="3595" width="191" height="27.5"/><text x="397" y="3613">二、甲、乙双方施工现场负责人：</text></g>
<g id="S2"><rect x="120" y="3558" width="250" height="43"/><text x="126" y="3576"><tspan>甲方委派： 职务；担任履行本合同条款的责</tspan><tspan x="126" dy="15.5">任与义务。</tspan></text></g>
<g id="S3"><rect x="191" y="3625" width="179" height="27.5"/><text x="197" y="3643">乙方委派：职务；责任与义务。</text></g>
<g id="R4"><rect x="488" y="3822" width="94" height="27.5"/><text x="494" y="3840">三、甲方的职责</text></g>
<g id="S4"><rect x="215" y="3678" width="250" height="43"/><text x="221" y="3696"><tspan>1、甲方需提供符合国家规定的劳动保护设施</tspan><tspan x="221" dy="15.5">和劳动保护用品。</tspan></text></g>
<g id="S5"><rect x="231" y="3746" width="234" height="27.5"/><text x="237" y="3764">2、甲方需提供合理的工作面和生产场所。</text></g>
<g id="S6"><rect x="215" y="3799" width="250" height="58.5"/><text x="221" y="3817"><tspan>3、甲方进场时及以后生产中，应对乙方人员</tspan><tspan x="221" dy="15.5">进行安全生产、技术交底、规章制度、操作规</tspan><tspan x="221" dy="15.5">程等方面的教育。</tspan></text></g>
<g id="S7"><rect x="215" y="3883" width="250" height="43"/><text x="221" y="3901"><tspan>4、甲方经乙方商定后有权辞退不符合条件的</tspan><tspan x="221" dy="15.5">乙方人员。</tspan></text></g>
<g id="S8"><rect x="215" y="3951" width="250" height="43"/><text x="221" y="3969"><tspan>5、甲方必须按规定支付劳动工资及相关的管</tspan><tspan x="221" dy="15.5">理费。</tspan></text></g>
<g id="R5"><rect x="488" y="4111" width="94" height="27.5"/><text x="494" y="4129">四、乙方的职责</text></g>
<g id="S9"><rect x="215" y="4019" width="250" height="58.5"/><text x="221" y="4037"><tspan>1、乙方必须遵守甲方的规章制度、操作规程</tspan><tspan x="221" dy="15.5">，按甲方的质量要求、工程进度及时向甲方输</tspan><tspan x="221" dy="15.5">出劳力，按要求完成甲方下达的工程任务。</tspan></text></g>
<g id="S10"><rect x="215" y="4102" width="250" height="58.5"/><text x="221" y="4120"><tspan>2、乙方应做好劳动者跟踪管理及后勤保障服</tspan><tspan x="221" dy="15.5">务，负责对务工人员进行分期分批劳力培训，</tspan><tspan x="221" dy="15.5">办理上岗证，就业务证。</tspan></text></g>
<g id="S11"><rect x="255" y="4186" width="210" height="27.5"/><text x="261" y="4204">3、监督甲方与劳动者签订劳动合同。</text></g>
<g id="R6"><rect x="428" y="4390" width="154" height="27.5"/><text x="434" y="4408">五、工资款的确定及发放：</text></g>
<g id="S12"><rect x="155" y="4239" width="250" height="58.5"/><text x="161" y="4257"><tspan>1、甲、乙双方按劳动力市场信息价暂定工资</tspan><tspan x="161" dy="15.5">款总量为人民币，在施工过程中如无较大工</tspan><tspan x="161" dy="15.5">程数量变化，工资额不做调整。</tspan></text></g>
<g id="S13"><rect x="155" y="4322" width="250" height="74"/><text x="161" y="4340"><tspan>2、甲方每月核定工资量后，应将发放给务工</tspan><tspan x="161" dy="15.5">者的工资款总额加的劳务管理费（管理费已含</tspan><tspan x="161" dy="15.5">在工资总额中）转入乙方指定的'帐户，开户</tspan><tspan x="161" dy="15.5">行，帐号。</tspan></text></g>
<g id="S14"><rect x="155" y="4421" width="250" height="58.5"/><text x="161" y="4439"><tspan>3、乙方应在收到甲方转入的工人工资款及劳</tspan><tspan x="161" dy="15.5">务管理费后，配合甲方发放工资，确保工人按</tspan><tspan x="161" dy="15.5">劳动合同规定领取工资或生活补贴。</tspan></text></g>
<g id="S15"><rect x="155" y="4505" width="250" height="74"/><text x="161" y="4523"><tspan>4、甲方保证在建设单位进度款拨付不及时的</tspan><tspan x="161" dy="15.5">情况下，必须按厦门市政府颁布的当年最低工</tspan><tspan x="161" dy="15.5">人工资标准及时把工人工资款转入乙方指定的</tspan><tspan x="161" dy="15.5">帐户。</tspan></text></g>
<g id="R7"><rect x="488" y="4691" width="94" height="27.5"/><text x="494" y="4709">六、奖惩办法：</text></g>
<g id="S16"><rect x="215" y="4603" width="250" height="58.5"/><text x="221" y="4621"><tspan>1、因甲方未按时转入工资款造成的一切后果</tspan><tspan x="221" dy="15.5">由甲方承担，逾期支付 按日千分之三向乙方</tspan><tspan x="221" dy="15.5">支付逾期付款违约金。</tspan></text></g>
<g id="S17"><rect x="215" y="4687" width="250" height="43"/><text x="221" y="4705"><tspan>2、非乙方原因造成停工、返工，甲方应承担</tspan><tspan x="221" dy="15.5">全部损失。</tspan></text></g>
<g id="S18"><rect x="215" y="4755" width="250" height="43"/><text x="221" y="4773"><tspan>3、因乙方原因造成工程返工的，应由乙方赔</tspan><tspan x="221" dy="15.5">付材料费及返工人工费。</tspan></text></g>
<g id="R8"><rect x="332" y="4824" width="250" height="43"/><text x="338" y="4842"><tspan>七、违约责任：擅自解除合同的，应付给对方</tspan><tspan x="338" dy="15.5">违约金1000元。</tspan></text></g>
<g id="R9"><rect x="332" y="4892" width="250" height="43"/><text x="338" y="4910"><tspan>八、因合同环境改变，经双方协商一致方可解</tspan><tspan x="338" dy="15.5">除合同。</tspan></text></g>
<g id="R10"><rect x="368" y="4960" width="214" height="27.5"/><text x="374" y="4978">九、合同的变更按国家有关规定办理。</text></g>
<g id="R11"><rect x="332" y="5012" width="250" height="120.5"/><text x="338" y="5030"><tspan>十、由于建筑劳务的相关管理规定要求，施工</tspan><tspan x="338" dy="15.5">企业使用外来建筑劳力，必须从劳务公司或建</tspan><tspan x="338" dy="15.5">制输入，双方特别约定，所有输入人员的工资</tspan><tspan x="338" dy="15.5">款及乙方所应收取的劳务管理费均视为劳务费</tspan><tspan x="338" dy="15.5">，追讨被拖欠劳务费的诉讼时效为两年，乙方</tspan><tspan x="338" dy="15.5">可就某所输入人员的全部工资款及劳务管理费</tspan><tspan x="338" dy="15.5">一并向甲方主张权利。</tspan></text></g>
<g id="S19"><rect x="203" y="5025" width="106" height="27.5"/><text x="209" y="5043">十一、补充条款。</text></g>
<g id="S20"><rect x="60" y="5077" width="249" height="58.5"/><text x="66" y="5095"><tspan>十二、本合同签订后，甲、乙双方必须严格履</tspan><tspan x="66" dy="15.5">行。合同一式三份，甲、乙双方,项目部各执</tspan><tspan x="66" dy="15.5">一份，每份均具同等效力。</tspan></text></g>
</g>
</g>
</svg>
